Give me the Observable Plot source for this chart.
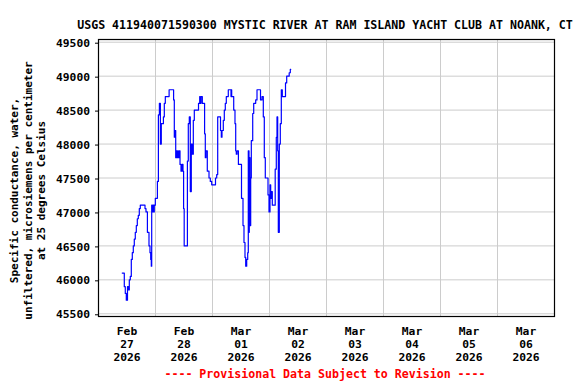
<!DOCTYPE html>
<html>
<head>
<meta charset="utf-8">
<script src="https://cdn.jsdelivr.net/npm/d3@7"></script>
<script src="https://cdn.jsdelivr.net/npm/@observablehq/plot@0.6"></script>
<style>
  html, body { margin: 0; padding: 0; background: #fff; }
</style>
</head>
<body>
<div id="chart"></div>
<script>
// ---- Data ----
const titleText = "USGS 411940071590300 MYSTIC RIVER AT RAM ISLAND YACHT CLUB AT NOANK, CT";
const footerText = "---- Provisional Data Subject to Revision ----";
const yLabelLines = ["Specific conductance, water,", "unfiltered, microsiemens per centimeter", "at 25 degrees Celsius"];

// hours since 2026-02-27 00:00
const hours = [
  10.0, 10.45, 10.86, 11.28, 11.70, 12.21, 12.63, 12.97, 13.39, 13.81,
  14.23, 14.65, 15.07, 15.49, 15.92, 16.34, 16.76, 17.18, 17.60, 19.28,
  19.58, 20.0, 20.59, 21.26, 21.68, 21.98, 22.23, 22.40, 22.65, 22.95,
  23.24, 23.49, 23.92, 24.80, 25.22, 25.64, 26.06, 26.44, 27.33, 27.71,
  28.13, 29.73, 31.62, 31.92, 32.21, 32.51, 32.76, 33.05, 33.35, 33.60,
  34.02, 34.32, 34.74, 35.16, 35.58, 35.83, 36.08, 37.43, 37.81, 38.23,
  38.65, 39.07, 39.49, 39.92, 40.34, 42.11, 42.61, 42.86, 43.16, 43.71,
  44.67, 44.97, 45.26, 45.81, 46.53, 47.07, 47.66, 49.26, 49.77, 50.19,
  51.37, 51.71, 52.00, 52.55, 52.97, 53.39, 53.81, 54.65, 55.79, 55.92,
  56.08, 56.93, 57.47, 57.77, 58.02, 58.32, 58.91, 60.21, 60.84, 61.26,
  61.68, 61.98, 62.40, 62.82, 63.07, 63.37, 63.49, 63.79, 64.08, 64.34,
  64.93, 65.35, 66.19, 66.74, 68.21, 68.84, 69.39, 69.81, 70.23, 71.37,
  71.79, 72.21, 72.50, 72.76, 73.18, 74.40, 74.86, 75.16, 75.45, 75.71,
  76.13, 76.55, 76.97, 77.39, 78.74, 79.24, 80.29, 80.76, 80.95
];
const values = [
  46100, 46100, 45900, 45800, 45700, 45900, 45850, 46000, 46050, 46300,
  46400, 46500, 46600, 46700, 46800, 46900, 46950, 47050, 47100, 47100,
  47050, 47000, 46700, 46500, 46400, 46300, 46200, 47100, 47000, 47100,
  47000, 47100, 47200, 47450, 48430, 48600, 48000, 48300, 48400, 48600,
  48700, 48800, 48650, 48100, 48200, 47800, 47900, 47800, 47900, 47800,
  47900, 47700, 47600, 47700, 47600, 47050, 46500, 47750, 48300, 48400,
  47300, 48000, 47850, 48350, 48500, 48600, 48700, 48600, 48700, 48600,
  48150, 47800, 47900, 47600, 47500, 47450, 47400, 47500, 47550, 48400,
  48200, 48100, 48200, 48350, 48500, 48600, 48700, 48800, 48700, 48800,
  48700, 48500, 48300, 47900, 47850, 47900, 47700, 47200, 46800, 46550,
  46330, 46200, 46300, 46400, 47900, 46700, 47800, 46800, 47500, 48050,
  48450, 48600, 48650, 48800, 48650, 48700, 48400, 47800, 47500, 47250,
  47000, 47400, 47200, 47300, 47100, 47630, 48100, 48400, 47900, 46700,
  48000, 48300, 48800, 48700, 48900, 49000, 49050, 49100, 49100
];

const yTicks = [45500, 46000, 46500, 47000, 47500, 48000, 48500, 49000, 49500];
const tickMonths = ["Feb", "Feb", "Mar", "Mar", "Mar", "Mar", "Mar", "Mar"];
const tickDays = ["27", "28", "01", "02", "03", "04", "05", "06"];
const tickYears = ["2026", "2026", "2026", "2026", "2026", "2026", "2026", "2026"];

// ---- Build tables ----
const t0 = Date.UTC(2026, 1, 27);
const HOUR = 3600e3, DAY = 24 * HOUR;
const series = hours.map((h, i) => ({date: new Date(t0 + h * HOUR), value: values[i]}));
const dayLabels = tickDays.map((d, i) => ({
  date: new Date(t0 + i * DAY + 12 * HOUR),
  text: `${tickMonths[i]}\n${d}\n${tickYears[i]}`
}));
const gridDays = d3.range(1, tickDays.length).map(i => new Date(t0 + i * DAY));

const font = "'DejaVu Sans Mono', 'Liberation Mono', monospace";

const chart = Plot.plot({
  width: 576,
  height: 384,
  marginLeft: 98,
  marginRight: 22,
  marginTop: 39,
  marginBottom: 68,
  style: {fontFamily: font, fontSize: "11.3px", fontWeight: "bold", background: "#fff", color: "#000"},
  x: {type: "utc", domain: [new Date(t0), new Date(t0 + 8 * DAY)], axis: null},
  y: {domain: [45460, 49540], axis: null},
  marks: [
    Plot.gridY(yTicks, {stroke: "#cccccc", strokeOpacity: 1}),
    Plot.ruleX(gridDays, {stroke: "#cccccc", strokeOpacity: 1}),
    Plot.axisY({ticks: yTicks, tickSize: 3, tickPadding: 5.5, tickFormat: d => String(d), label: null, dy: 1}),
    Plot.line(series, {x: "date", y: "value", curve: "step-after", stroke: "#0000ff", strokeWidth: 1.2}),
    Plot.frame({stroke: "#000", strokeWidth: 1.2}),
    Plot.text(dayLabels, {x: "date", frameAnchor: "bottom", text: "text", lineAnchor: "top", dy: 9.5, lineHeight: 1.13, fontSize: 11.3}),
    Plot.text([titleText], {frameAnchor: "top", text: d => d, dy: -18.5, dx: -1.5, fontSize: 11.6}),
    Plot.text([footerText], {frameAnchor: "bottom", text: d => d, dy: 61, dx: -1.5, fill: "#ff0000", fontSize: 11.6}),
    Plot.text([yLabelLines.join("\n")], {frameAnchor: "left", textAnchor: "middle", text: d => d, rotate: -90, dx: -71, dy: 12.5, lineAnchor: "middle", lineHeight: 1.22, fontSize: 11})
  ]
});
document.getElementById("chart").appendChild(chart);
</script>
</body>
</html>
